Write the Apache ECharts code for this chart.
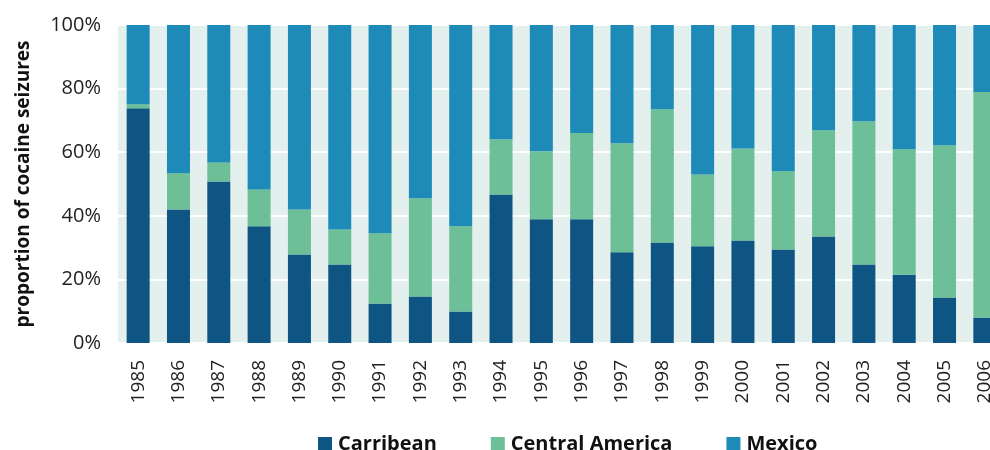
<!DOCTYPE html>
<html>
<head>
<meta charset="utf-8">
<script src="https://cdn.jsdelivr.net/npm/echarts@6/dist/echarts.min.js"></script>
<style>
html,body{margin:0;padding:0;background:#fff;}
#chart{width:990px;height:450px;}
</style>
</head>
<body>
<div id="chart"></div>
<script>
const years = ['1985','1986','1987','1988','1989','1990','1991','1992','1993','1994','1995','1996','1997','1998','1999','2000','2001','2002','2003','2004','2005','2006'];
const carribean = [73.8,42.0,50.8,36.7,27.8,24.7,12.4,14.6,9.9,46.7,38.9,38.9,28.5,31.6,30.4,32.2,29.4,33.5,24.7,21.5,14.3,8.0];
const centralAmerica = [1.3,11.4,6.0,11.6,14.2,11.0,22.1,30.9,26.8,17.4,21.4,27.1,34.3,41.9,22.6,29.0,24.6,33.4,45.0,39.4,47.9,70.9];
const mexico = [24.9,46.6,43.2,51.7,58.0,64.3,65.5,54.5,63.3,35.9,39.7,34.0,37.2,26.5,47.0,38.8,46.0,33.1,30.3,39.1,37.8,21.1];
const yTicks = [0,20,40,60,80,100];

const font = '"Open Sans", "Noto Sans", sans-serif';
const chart = echarts.init(document.getElementById('chart'), null, {renderer:'canvas'});
chart.setOption({
  animation: false,
  textStyle: {fontFamily: font},
  grid: {left: 118, top: 25, width: 887, height: 318, show: true, backgroundColor: '#e3f0ed', borderWidth: 0, outerBoundsMode: 'none', containLabel: false},
  legend: {
    left: 313, top: 429,
    itemWidth: 14, itemHeight: 14, itemGap: 54,
    icon: 'rect',
    textStyle: {fontFamily: font, fontSize: 20, fontWeight: 'bold', color: '#111', padding: [0,0,0,1]},
    data: ['Carribean','Central America','Mexico']
  },
  xAxis: {
    type: 'category', data: years,
    axisLine: {show: false}, axisTick: {show: false},
    axisLabel: {rotate: 90, fontSize: 19, color: '#222', margin: 17, fontFamily: font}
  },
  yAxis: {
    type: 'value', min: 0, max: 100, interval: 20,
    name: 'proportion of cocaine seizures', nameLocation: 'middle', nameGap: 85,
    nameTextStyle: {fontSize: 19, fontWeight: 'bold', color: '#111', fontFamily: font},
    axisLine: {show: false}, axisTick: {show: false},
    axisLabel: {fontSize: 20, color: '#222', margin: 17, fontFamily: font,
      formatter: v => yTicks.includes(v) ? v + '%' : ''},
    splitLine: {show: true, lineStyle: {color: '#ffffff', width: 2}}
  },
  series: [
    {name: 'Carribean', type: 'bar', stack: 's', data: carribean, barWidth: 23, itemStyle: {color: '#0f5584'}},
    {name: 'Central America', type: 'bar', stack: 's', data: centralAmerica, barWidth: 23, itemStyle: {color: '#6dbf97'}},
    {name: 'Mexico', type: 'bar', stack: 's', data: mexico, barWidth: 23, itemStyle: {color: '#1d8ab8'}}
  ]
});
</script>
</body>
</html>
